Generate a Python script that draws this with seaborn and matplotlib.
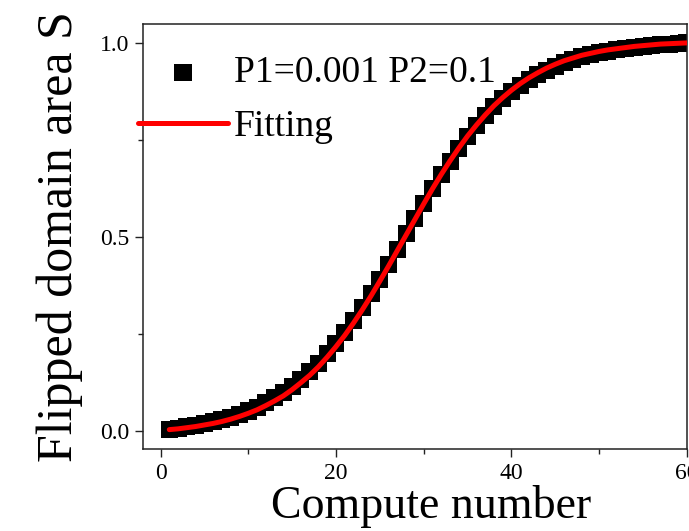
import numpy as np
import pandas as pd
import matplotlib
matplotlib.use("Agg")
import matplotlib.pyplot as plt
import seaborn as sns

# values
compute_number = list(range(1, 61))

flipped_area = [0.004, 0.007, 0.010, 0.014, 0.018, 0.023, 0.029, 0.035, 0.043, 0.051,
                0.061, 0.072, 0.085, 0.099, 0.115, 0.133, 0.152, 0.174, 0.198, 0.224,
                0.253, 0.284, 0.318, 0.353, 0.391, 0.429, 0.468, 0.508, 0.547, 0.586,
                0.624, 0.661, 0.695, 0.728, 0.758, 0.786, 0.812, 0.835, 0.856, 0.875,
                0.891, 0.906, 0.919, 0.930, 0.940, 0.949, 0.957, 0.964, 0.970, 0.975,
                0.979, 0.983, 0.986, 0.989, 0.991, 0.993, 0.995, 0.997, 0.999, 1.000]

fitting = [0.003, 0.005, 0.008, 0.011, 0.015, 0.019, 0.024, 0.030, 0.037, 0.045,
           0.054, 0.065, 0.077, 0.090, 0.106, 0.124, 0.143, 0.165, 0.190, 0.217,
           0.246, 0.278, 0.312, 0.348, 0.386, 0.425, 0.465, 0.505, 0.545, 0.585,
           0.624, 0.661, 0.696, 0.729, 0.760, 0.788, 0.814, 0.838, 0.859, 0.878,
           0.895, 0.910, 0.923, 0.935, 0.945, 0.954, 0.961, 0.968, 0.973, 0.978,
           0.982, 0.985, 0.988, 0.991, 0.993, 0.995, 0.997, 0.998, 0.999, 1.000]

sim = pd.DataFrame({"x": compute_number, "S": flipped_area})
fit = pd.DataFrame({"x": compute_number, "S": fitting})

sns.set_style("ticks")
plt.rcParams["font.family"] = ["Liberation Serif", "DejaVu Serif"]
plt.rcParams["text.color"] = "black"
plt.rcParams["axes.labelcolor"] = "black"
plt.rcParams["xtick.color"] = "black"
plt.rcParams["ytick.color"] = "black"

fig = plt.figure(figsize=(6.89, 5.31), dpi=100)
ax = fig.add_axes([0.2075, 0.1544, 0.7895, 0.8006])

sns.scatterplot(data=sim, x="x", y="S", marker="s", s=150, color="black",
                edgecolor="none", label="P1=0.001 P2=0.1", ax=ax, zorder=2)
sns.lineplot(data=fit, x="x", y="S", color="red", linewidth=3.6,
             label="Fitting", ax=ax, zorder=3)

ax.set_xlim(-2, 60)
ax.set_ylim(-0.047, 1.049)
ax.set_xticks([0, 20, 40, 60])
ax.set_xticks([10, 30, 50], minor=True)
ax.set_yticks([0.0, 0.5, 1.0])
ax.set_yticks([0.25, 0.75], minor=True)
ax.set_yticklabels(["0.0", "0.5", "1.0"])

ax.tick_params(which="major", length=6, width=1, labelsize=17, color="#222222", pad=4)
ax.tick_params(which="minor", length=3.5, width=1, color="#222222")
for sp in ax.spines.values():
    sp.set_linewidth(1.1)
    sp.set_color("#222222")

ax.set_xlabel("Compute number", fontsize=33)
ax.xaxis.set_label_coords(0.53, -0.085, transform=ax.transAxes)
ax.xaxis.label.set_va("top")
ax.set_ylabel("Flipped domain area S", fontsize=36, labelpad=12)

ax.legend(loc="upper left", bbox_to_anchor=(138 / 689, 1 - 56 / 531),
          bbox_transform=fig.transFigure, frameon=False, fontsize=27,
          handlelength=2.4, handletextpad=0.15, borderpad=0, borderaxespad=0,
          labelspacing=0.5, markerscale=1)

fig.savefig("out.png", dpi=100)
